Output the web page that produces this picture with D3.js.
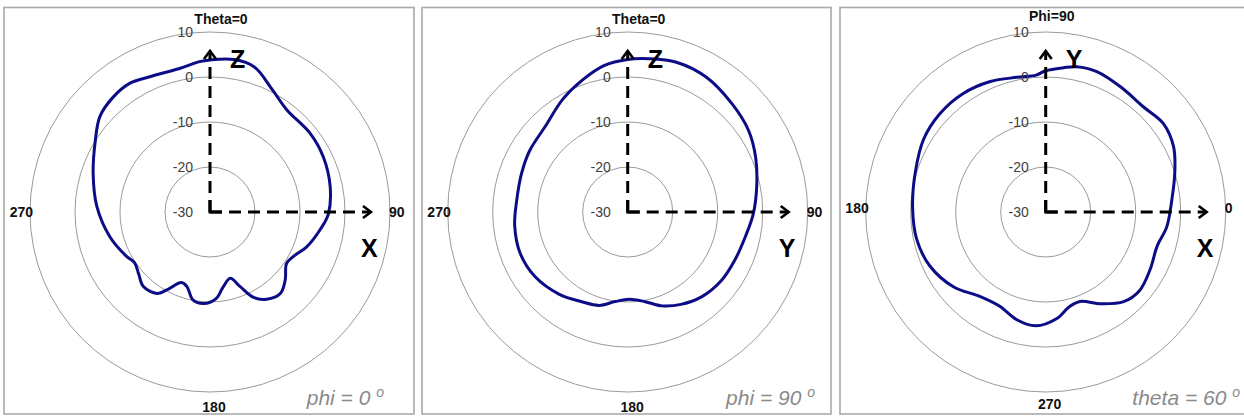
<!DOCTYPE html>
<html>
<head>
<meta charset="utf-8">
<script src="https://cdn.jsdelivr.net/npm/d3@7"></script>
<style>
  html, body { margin: 0; padding: 0; background: #fff; }
  svg { display: block; font-family: "Liberation Sans", Arial, sans-serif; }
</style>
</head>
<body>
<svg id="chart" width="1244" height="417"></svg>
<script>
// ---------- DATA ----------
const radialTicks = [-30, -20, -10, 0, 10];

// Panel 1: phi = 0 cut, angle = theta (deg), gain (dB)
const p1Angle = [0, 9, 17, 27, 37, 52, 64, 78, 91, 99, 110, 118, 124, 132, 139, 147, 153, 158, 163, 170, 176, 184, 191, 197, 202, 209, 213, 222, 229, 236, 242, 256, 273, 288, 301, 311, 320, 328, 336, 348, 356];
const p1Gain  = [3.8, 4.3, 3.7, 0.5, -1.6, -1.7, -2.0, -2.7, -3.7, -5.2, -7.2, -9.0, -9.5, -7.5, -6.1, -6.9, -8.7, -12.1, -14.6, -13.1, -10.7, -9.6, -10.1, -12.6, -13.1, -10.2, -8.4, -7.8, -9.0, -9.8, -9.0, -7.1, -4.8, -2.7, -0.2, 2.4, 3.4, 3.7, 2.9, 2.6, 3.5];

// Panel 2: phi = 90 cut, angle = theta (deg)
const p2Angle = [0, 8, 18, 30, 44, 56, 67, 79, 91, 102, 114, 126, 139, 150, 160, 169, 179, 188, 197, 207, 220, 235, 249, 263, 276, 290, 302, 316, 330, 341, 351];
const p2Gain  = [3.9, 4.4, 5.0, 4.7, 3.4, 2.4, 0.9, -0.8, -2.1, -3.3, -3.9, -4.2, -5.0, -6.3, -7.8, -9.7, -10.6, -9.9, -8.3, -7.6, -6.2, -4.9, -4.4, -4.7, -5.2, -4.9, -4.3, -3.6, -1.1, 1.0, 3.0];

// Panel 3: theta = 60 cut, angle = phi (deg)
const p3Angle = [90, 83, 78, 70, 59, 47, 37, 27, 17, 5, 353, 343, 331, 320, 311, 301, 291, 284, 276, 265, 255, 244, 232, 219, 205, 192, 178, 163, 149, 137, 125, 113, 102, 94];
const p3Gain  = [1.4, 2.3, 3.0, 3.2, 2.4, 1.9, 2.7, 1.9, 0.0, -1.9, -2.9, -4.1, -3.5, -2.8, -3.6, -6.2, -8.7, -8.3, -6.2, -4.6, -5.2, -6.7, -6.2, -3.6, -1.6, -0.7, -0.4, 0.3, 1.6, 2.1, 2.1, 1.5, 0.6, 0.5];

const p1Labels = ["Theta=0", "90", "180", "270"];   // top, right, bottom, left
const p2Labels = ["Theta=0", "90", "180", "270"];
const p3Labels = ["Phi=90", "0", "270", "180"];
const axisNames = [["Z", "X"], ["Z", "Y"], ["Y", "X"]];
const captions = [["phi = 0", "o"], ["phi = 90", "o"], ["theta = 60", "o"]];

// ---------- LAYOUT ----------
const panels = [
  { x0: 4,   x1: 414,  cx: 210,   cy: 212, angle: p1Angle, gain: p1Gain, labels: p1Labels, dir: 1,  offset: 0,
    topDx: 11, topDy: -193, botDx: 4, botDy: 195, sideDy: 0, capEnd: 384 },
  { x0: 422, x1: 831,  cx: 627.7, cy: 212, angle: p2Angle, gain: p2Gain, labels: p2Labels, dir: 1,  offset: 0,
    topDx: 11, topDy: -193, botDx: 4.5, botDy: 195, sideDy: 0, capEnd: 815 },
  { x0: 840, x1: 1260, cx: 1045.7, cy: 212, angle: p3Angle, gain: p3Gain, labels: p3Labels, dir: -1, offset: 90,
    topDx: 6, topDy: -196, botDx: 4, botDy: 192, sideDy: -4, capEnd: 1240 }
];

const r = d3.scaleLinear().domain([-30, 10]).range([0, 180]);
const svg = d3.select("#chart");

panels.forEach((p, i) => {
  const g = svg.append("g");
  // panel frame
  g.append("rect")
    .attr("x", p.x0).attr("y", 7.5)
    .attr("width", p.x1 - p.x0).attr("height", 406.5)
    .attr("fill", "#fff").attr("stroke", "#a9a9a9").attr("stroke-width", 1.6);

  const c = g.append("g").attr("transform", `translate(${p.cx},${p.cy})`);

  // rings
  c.selectAll("circle.ring").data(radialTicks.filter(t => t > -30)).join("circle")
    .attr("class", "ring").attr("r", d => r(d))
    .attr("fill", "none").attr("stroke", "#9a9a9a").attr("stroke-width", 1);

  // curve
  const pts = p.angle.map((a, k) => ({ a: ((p.offset + p.dir * a) % 360 + 360) % 360, v: p.gain[k] }));
  pts.sort((u, w) => u.a - w.a);
  const line = d3.lineRadial()
    .angle(d => d.a * Math.PI / 180)
    .radius(d => r(d.v))
    .curve(d3.curveCatmullRomClosed.alpha(0.5));
  c.append("path").datum(pts).attr("d", line)
    .attr("fill", "none").attr("stroke", "#0c0c86").attr("stroke-width", 3)
    .attr("stroke-linejoin", "round");

  // dashed axes
  const axLen = 161;
  c.append("line").attr("x1", 0).attr("y1", 0).attr("x2", 0).attr("y2", -axLen + 2)
    .attr("stroke", "#000").attr("stroke-width", 3).attr("stroke-dasharray", "12,7");
  c.append("line").attr("x1", 0).attr("y1", 0).attr("x2", axLen - 2).attr("y2", 0)
    .attr("stroke", "#000").attr("stroke-width", 3).attr("stroke-dasharray", "12,7");
  // arrowheads (open chevrons)
  c.append("path").attr("d", `M-6,${-axLen + 8} L0,${-axLen} L6,${-axLen + 8}`)
    .attr("fill", "none").attr("stroke", "#000").attr("stroke-width", 2.6);
  c.append("path").attr("d", `M${axLen - 8},-6 L${axLen},0 L${axLen - 8},6`)
    .attr("fill", "none").attr("stroke", "#000").attr("stroke-width", 2.6);
  // corner at origin
  c.append("path").attr("d", "M0,-12 L0,1.5 M-1.5,0 L12,0")
    .attr("stroke", "#000").attr("stroke-width", 3);

  // radial tick labels
  c.selectAll("text.tick").data(radialTicks).join("text")
    .attr("class", "tick")
    .attr("x", -17).attr("y", d => -r(d))
    .attr("dy", "0.35em").attr("text-anchor", "end")
    .attr("font-size", 14).attr("fill", "#404040")
    .text(d => d);

  // angle labels
  const lab = c.append("g").attr("font-weight", "bold").attr("font-size", 14).attr("fill", "#111");
  lab.append("text").attr("x", p.topDx).attr("y", p.topDy).attr("dy", "0.35em")
    .attr("text-anchor", "middle").text(p.labels[0]);
  lab.append("text").attr("x", 179).attr("y", p.sideDy).attr("dy", "0.35em")
    .attr("text-anchor", "start").text(p.labels[1]);
  lab.append("text").attr("x", p.botDx).attr("y", p.botDy).attr("dy", "0.35em")
    .attr("text-anchor", "middle").text(p.labels[2]);
  lab.append("text").attr("x", -177).attr("y", p.sideDy).attr("dy", "0.35em")
    .attr("text-anchor", "end").text(p.labels[3]);

  // axis letters
  const big = c.append("g").attr("font-weight", "bold").attr("font-size", 25).attr("fill", "#000");
  big.append("text").attr("x", 20).attr("y", -144).text(axisNames[i][0]);
  big.append("text").attr("x", 151).attr("y", 45).text(axisNames[i][1]);

  // caption
  const cap = g.append("text").attr("x", p.capEnd).attr("y", 405)
    .attr("text-anchor", "end").attr("font-style", "italic").attr("font-size", 21)
    .attr("fill", "#8a8a8a");
  cap.append("tspan").text(captions[i][0] + " ");
  cap.append("tspan").attr("dy", -8).attr("font-size", 14).text(captions[i][1]);
});
</script>
</body>
</html>
